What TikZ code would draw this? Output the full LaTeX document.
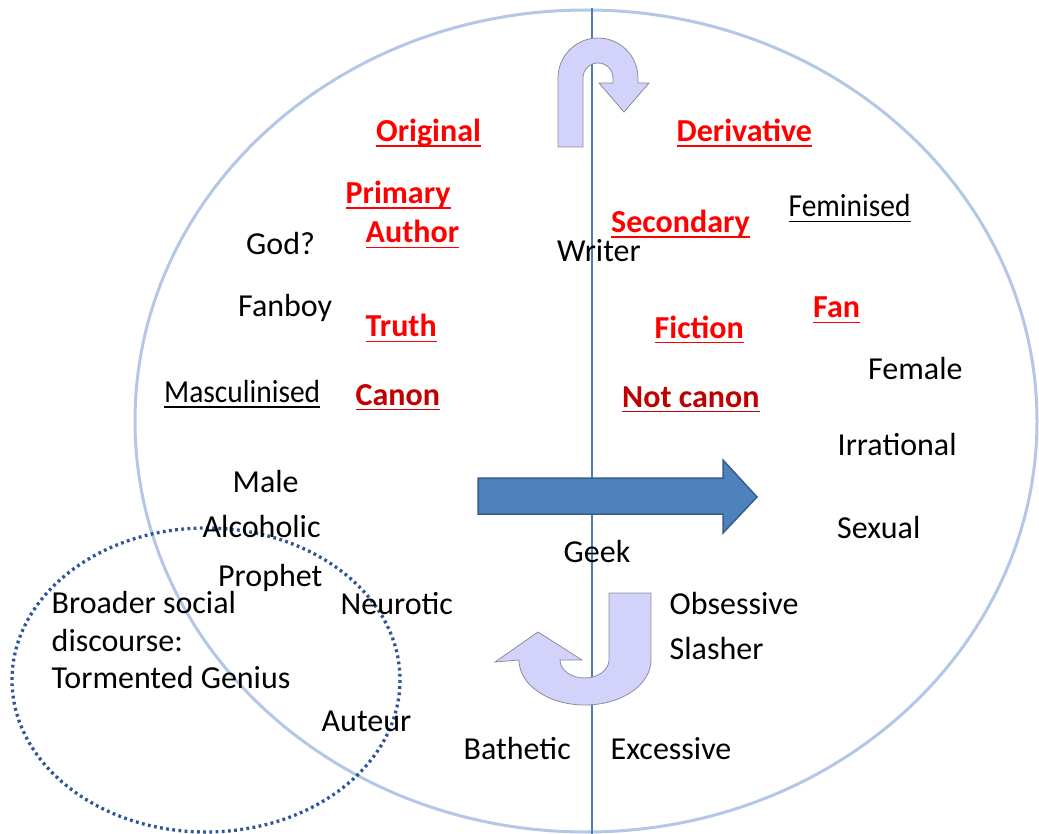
\documentclass[tikz,border=0pt]{standalone}
\usepackage{fontspec}
\setmainfont{Carlito}
\newfontfamily\narrowcal[FakeStretch=0.92]{Carlito}
\definecolor{rA}{HTML}{FF0000}
\definecolor{rB}{HTML}{C00000}
\definecolor{ellc}{HTML}{B4C7E7}
\definecolor{vlc}{HTML}{4A7EBB}
\definecolor{dotc}{HTML}{2F5597}
\definecolor{lav}{HTML}{D2D2FA}
\definecolor{lavline}{HTML}{8C8C9A}
\definecolor{bigf}{HTML}{4F81BD}
\definecolor{bigd}{HTML}{385D8A}
\begin{document}
\begin{tikzpicture}[x=1pt,y=-1pt,
  txt/.style={anchor=base west, inner sep=0pt, font=\fontsize{32}{38}\selectfont, text=black},
  txtn/.style={txt, font=\narrowcal\fontsize{32}{38}\selectfont},
  redb/.style={txt, font=\fontsize{32}{38}\selectfont\bfseries, text=rA},
  dredb/.style={txt, font=\fontsize{32}{38}\selectfont\bfseries, text=rB},
  uturn/.style={fill=lav, draw=lavline, line width=0.8pt, line join=miter},
]
\useasboundingbox (0,0) rectangle (1039,834);
% big ellipse and axis
\draw[ellc, line width=3pt] (586,421) ellipse [x radius=451, y radius=411];
\draw[vlc, line width=1.2pt] (592,8) -- (592,834);
% dotted ellipse
\draw[dotc, line width=3.3pt, dash pattern=on 2.8pt off 3.4pt] (206,680) ellipse [x radius=194, y radius=152];

% top U-turn arrow
\path[uturn] (558,147) -- (558,78) arc[start angle=180, end angle=360, radius=40]
  -- (638,83) -- (649,83) -- (624,112) -- (599,83) -- (613,83) -- (613,78)
  arc[start angle=360, end angle=180, radius=15] -- (583,147) -- cycle;
% bottom J arrow
\path[uturn] (609,593) -- (651,593) -- (651,660)
  arc[start angle=0, end angle=180, x radius=66, y radius=45]
  -- (495,662) -- (538,632) -- (582,660) -- (560,660)
  arc[start angle=180, end angle=0, x radius=24.5, y radius=18] -- cycle;
% big blue arrow
\path[fill=bigf, draw=bigd, line width=1.5pt] (478,478) -- (723,478) -- (723,460)
  -- (757,497) -- (723,533) -- (723,514) -- (478,514) -- cycle;

% red labels
\node[redb] (orig) at (376,141.5) {Original};
\node[redb] (deriv) at (676.5,141.5) {Derivative};
\node[redb] (prim) at (345.5,203.5) {Primary};
\node[redb] (auth) at (365.5,243) {Author};
\node[redb] (sec) at (611,232.5) {Secondary};
\node[redb] (truth) at (365.5,337) {Truth};
\node[redb] (fict) at (654.5,338) {Fiction};
\node[redb] (fan) at (813,318) {Fan};
\node[dredb] (canon) at (355.5,405) {Canon};
\node[dredb] (notc) at (622,407) {Not canon};
% black labels
\node[txtn] (femd) at (788.5,217) {Feminised};
\node[txtn] (masc) at (164,402.5) {Masculinised};
\node[txt] (god) at (246,255) {God?};
\node[txt] (writer) at (557,262) {Writer};
\node[txt] (fanboy) at (238,317) {Fanboy};
\node[txt] (female) at (868,379) {Female};
\node[txt] (irr) at (837.5,455) {Irrational};
\node[txt] (male) at (232.5,492.5) {Male};
\node[txt] (alc) at (202.5,537) {Alcoholic};
\node[txt] (sexual) at (837,538) {Sexual};
\node[txt] (geek) at (563.5,562) {Geek};
\node[txt] (proph) at (218,586) {Prophet};
\node[txt] (neur) at (340.5,614) {Neurotic};
\node[txt] (obs) at (669.5,614) {Obsessive};
\node[txt] (slash) at (669.5,659.5) {Slasher};
\node[txt] (aut) at (321.5,731) {Auteur};
\node[txt] (bath) at (463.5,759) {Bathetic};
\node[txt] (exc) at (610.5,759) {Excessive};
\node[txt] (br1) at (51.5,613) {Broader social};
\node[txt] (br2) at (51.5,651.5) {discourse:};
\node[txt] (br3) at (51.5,688.5) {Tormented Genius};

% underlines
\foreach \n/\c in {orig/rA, deriv/rA, prim/rA, auth/rA, sec/rA, truth/rA, fict/rA, fan/rA, canon/rB, notc/rB, femd/black, masc/black}
  \draw[\c, line width=1.8pt] ([yshift=-4.5pt]\n.base west) -- ([yshift=-4.5pt]\n.base east);
\end{tikzpicture}
\end{document}
